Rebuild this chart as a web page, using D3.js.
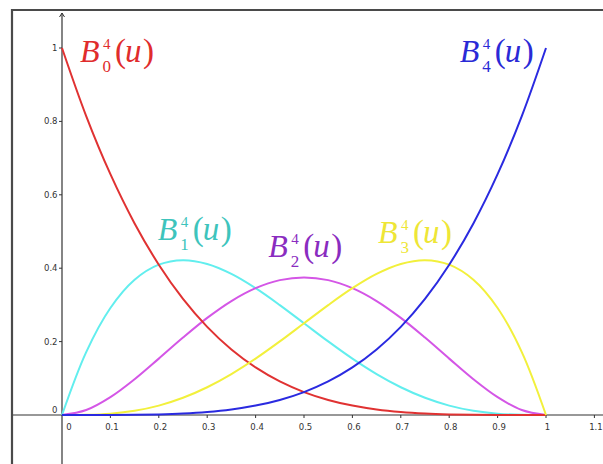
<!DOCTYPE html>
<html>
<head>
<meta charset="utf-8">
<script src="https://cdn.jsdelivr.net/npm/d3@7"></script>
<style>
  html, body { margin: 0; padding: 0; background: #fff; }
  svg { display: block; }
</style>
</head>
<body>
<svg id="chart" width="603" height="464"></svg>
<script>
// Parameter u sampled every 0.05
const uValues = [0, 0.05, 0.1, 0.15, 0.2, 0.25, 0.3, 0.35, 0.4, 0.45, 0.5,
                 0.55, 0.6, 0.65, 0.7, 0.75, 0.8, 0.85, 0.9, 0.95, 1];

// Degree-4 Bernstein basis values at each u
const b0Values = [1, 0.8145, 0.6561, 0.5220, 0.4096, 0.3164, 0.2401, 0.1785, 0.1296, 0.0915, 0.0625,
                  0.0410, 0.0256, 0.0150, 0.0081, 0.0039, 0.0016, 0.0005, 0.0001, 0.0000, 0];
const b1Values = [0, 0.1715, 0.2916, 0.3685, 0.4096, 0.4219, 0.4116, 0.3845, 0.3456, 0.2995, 0.2500,
                  0.2005, 0.1536, 0.1115, 0.0756, 0.0469, 0.0256, 0.0115, 0.0036, 0.0005, 0];
const b2Values = [0, 0.0135, 0.0486, 0.0975, 0.1536, 0.2109, 0.2646, 0.3105, 0.3456, 0.3675, 0.3750,
                  0.3675, 0.3456, 0.3105, 0.2646, 0.2109, 0.1536, 0.0975, 0.0486, 0.0135, 0];
const b3Values = [0, 0.0005, 0.0036, 0.0115, 0.0256, 0.0469, 0.0756, 0.1115, 0.1536, 0.2005, 0.2500,
                  0.2995, 0.3456, 0.3845, 0.4116, 0.4219, 0.4096, 0.3685, 0.2916, 0.1715, 0];
const b4Values = [0, 0.0000, 0.0001, 0.0005, 0.0016, 0.0039, 0.0081, 0.0150, 0.0256, 0.0410, 0.0625,
                  0.0915, 0.1296, 0.1785, 0.2401, 0.3164, 0.4096, 0.5220, 0.6561, 0.8145, 1];

const seriesIndex = ["0", "1", "2", "3", "4"];
const lineColors  = ["#e03232", "#62eeee", "#d456e6", "#f2f03c", "#2a2ae0"];
const labelColors = ["#e02c2c", "#3ec4bc", "#8a2cc0", "#eee636", "#2a2ad6"];
// Label anchor positions in (u, value) coordinates
const labelU = [0.037, 0.198, 0.426, 0.653, 0.822];
const labelV = [0.962, 0.477, 0.431, 0.469, 0.962];

const xTicks = [0, 0.1, 0.2, 0.3, 0.4, 0.5, 0.6, 0.7, 0.8, 0.9, 1, 1.1];
const yTicks = [0, 0.2, 0.4, 0.6, 0.8, 1];

const svg = d3.select("#chart");
const W = 603, H = 464;

const x = d3.scaleLinear().domain([0, 1]).range([62, 546]);
const y = d3.scaleLinear().domain([0, 1]).range([415, 48]);

// Frame (left and top edges)
svg.append("path")
  .attr("d", `M12,${H} L12,10 L${W},10`)
  .attr("fill", "none")
  .attr("stroke", "#4a4a4a")
  .attr("stroke-width", 2.2);

const axisColor = "#333";
// x axis line
svg.append("line")
  .attr("x1", 13).attr("x2", W)
  .attr("y1", y(0)).attr("y2", y(0))
  .attr("stroke", axisColor).attr("stroke-width", 1.2);
// y axis line with arrow
svg.append("line")
  .attr("x1", x(0)).attr("x2", x(0))
  .attr("y1", 13).attr("y2", H)
  .attr("stroke", axisColor).attr("stroke-width", 1.2);
svg.append("path")
  .attr("d", `M${x(0) - 2.5},${17} L${x(0)},${13} L${x(0) + 2.5},${17}`)
  .attr("fill", "none").attr("stroke", axisColor).attr("stroke-width", 1);

const tickFont = "'DejaVu Sans', sans-serif";

// x ticks
const xt = svg.append("g");
xTicks.forEach(t => {
  if (t === 0) return;
  xt.append("line")
    .attr("x1", x(t)).attr("x2", x(t))
    .attr("y1", y(0)).attr("y2", y(0) + 3)
    .attr("stroke", axisColor).attr("stroke-width", 1);
});
xTicks.forEach(t => {
  xt.append("text")
    .attr("x", t === 0 ? x(t) + 7 : x(t) + 1.5)
    .attr("y", y(0) + 14.5)
    .attr("text-anchor", "middle")
    .attr("font-family", tickFont)
    .attr("font-size", 8.5)
    .attr("fill", "#333")
    .text(d3.format("~g")(t));
});

// y ticks
const yt = svg.append("g");
yTicks.forEach(t => {
  if (t === 0) return;
  yt.append("line")
    .attr("x1", x(0) - 3).attr("x2", x(0))
    .attr("y1", y(t)).attr("y2", y(t))
    .attr("stroke", axisColor).attr("stroke-width", 1);
});
yTicks.forEach(t => {
  yt.append("text")
    .attr("x", x(0) - 4.5)
    .attr("y", t === 0 ? y(t) - 2 : y(t) + 3)
    .attr("text-anchor", "end")
    .attr("font-family", tickFont)
    .attr("font-size", 8.5)
    .attr("fill", "#333")
    .text(d3.format("~g")(t));
});

// Curves
const allValues = [b0Values, b1Values, b2Values, b3Values, b4Values];
const line = d3.line()
  .x((d, i) => x(uValues[i]))
  .y(d => y(d))
  .curve(d3.curveCatmullRom.alpha(0.5));

const drawOrder = [1, 2, 0, 3, 4];
drawOrder.forEach(k => {
  svg.append("path")
    .datum(allValues[k])
    .attr("d", line)
    .attr("fill", "none")
    .attr("stroke", lineColors[k])
    .attr("stroke-width", 2)
    .attr("stroke-linejoin", "round");
});

// Labels  B^4_i(u), each one text element built from tspans
const serif = "'Liberation Serif', 'Times New Roman', serif";
seriesIndex.forEach((idx, k) => {
  const x0 = x(labelU[k]), y0 = y(labelV[k]);
  const t = svg.append("text")
    .attr("x", x0).attr("y", y0)
    .attr("fill", labelColors[k])
    .attr("font-family", serif);
  t.append("tspan").attr("x", x0).attr("y", y0)
    .attr("font-size", 32).attr("font-style", "italic").text("B");
  t.append("tspan").attr("x", x0 + 23).attr("y", y0 - 13)
    .attr("font-size", 15).text("4");
  t.append("tspan").attr("x", x0 + 22.5).attr("y", y0 + 10)
    .attr("font-size", 17).text(idx);
  t.append("tspan").attr("x", x0 + 35).attr("y", y0)
    .attr("font-size", 33).text("(");
  t.append("tspan").attr("x", x0 + 45).attr("y", y0)
    .attr("font-size", 33).attr("font-style", "italic").text("u");
  t.append("tspan").attr("x", x0 + 63).attr("y", y0)
    .attr("font-size", 33).text(")");
});
</script>
</body>
</html>
